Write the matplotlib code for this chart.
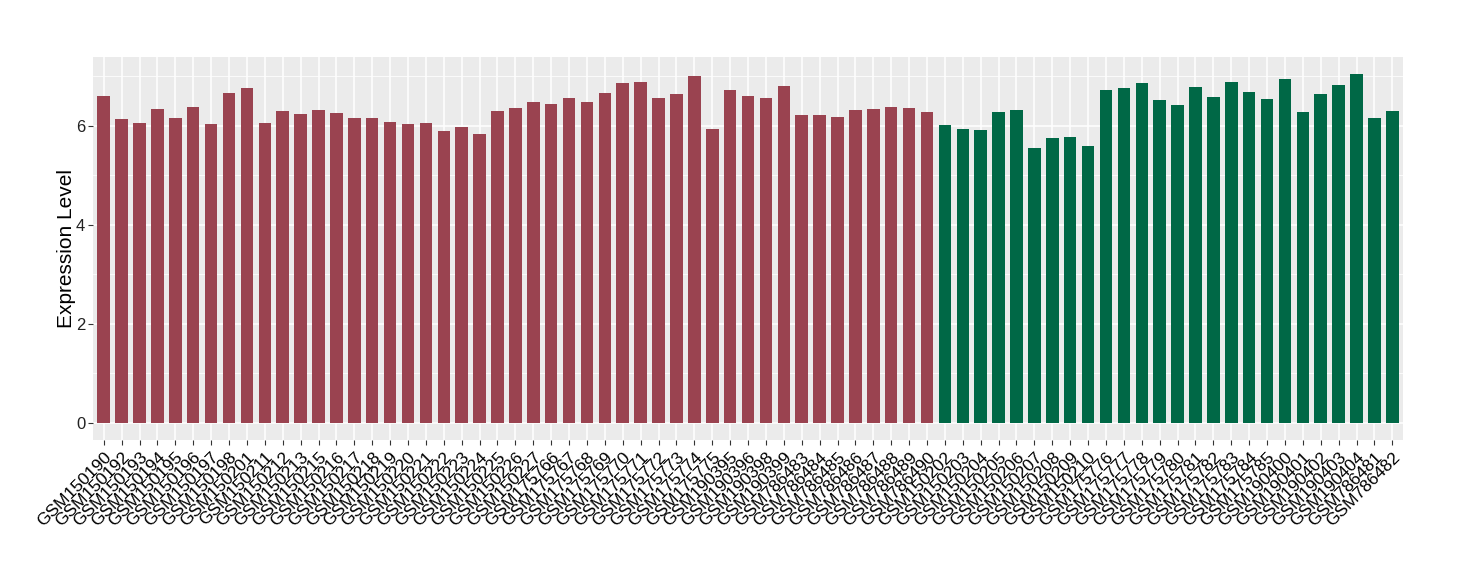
#!/usr/bin/env python3
"""Expression level per sample, two groups of bars in ggplot style."""

import numpy as np
import matplotlib
matplotlib.use("Agg")
import matplotlib.pyplot as plt
from matplotlib.ticker import MultipleLocator

# group 1 (red)
red_samples = [
    "GSM150190", "GSM150192", "GSM150193", "GSM150194", "GSM150195", "GSM150196",
    "GSM150197", "GSM150198", "GSM150201", "GSM150211", "GSM150212", "GSM150213",
    "GSM150215", "GSM150216", "GSM150217", "GSM150218", "GSM150219", "GSM150220",
    "GSM150221", "GSM150222", "GSM150223", "GSM150224", "GSM150225", "GSM150226",
    "GSM150227", "GSM175766", "GSM175767", "GSM175768", "GSM175769", "GSM175770",
    "GSM175771", "GSM175772", "GSM175773", "GSM175774", "GSM175775", "GSM190395",
    "GSM190396", "GSM190398", "GSM190399", "GSM786483", "GSM786484", "GSM786485",
    "GSM786486", "GSM786487", "GSM786488", "GSM786489", "GSM786490",
]
red_values = [
    6.61, 6.14, 6.06, 6.35, 6.16, 6.39, 6.04, 6.67, 6.77, 6.06, 6.30, 6.24,
    6.33, 6.26, 6.16, 6.16, 6.08, 6.04, 6.06, 5.90, 5.98, 5.84, 6.30, 6.37,
    6.48, 6.44, 6.56, 6.48, 6.66, 6.86, 6.88, 6.56, 6.64, 7.00, 5.94, 6.72,
    6.60, 6.56, 6.80, 6.22, 6.22, 6.18, 6.32, 6.34, 6.38, 6.36, 6.28,
]

# group 2 (green)
green_samples = [
    "GSM150202", "GSM150203", "GSM150204", "GSM150205", "GSM150206", "GSM150207",
    "GSM150208", "GSM150209", "GSM150210", "GSM175776", "GSM175777", "GSM175778",
    "GSM175779", "GSM175780", "GSM175781", "GSM175782", "GSM175783", "GSM175784",
    "GSM175785", "GSM190400", "GSM190401", "GSM190402", "GSM190403", "GSM190404",
    "GSM786481", "GSM786482",
]
green_values = [
    6.02, 5.94, 5.92, 6.28, 6.32, 5.56, 5.76, 5.78, 5.60, 6.72, 6.76, 6.86,
    6.52, 6.42, 6.78, 6.58, 6.88, 6.68, 6.54, 6.94, 6.28, 6.64, 6.82, 7.04,
    6.16, 6.30,
]

RED = "#9A4350"
GREEN = "#006846"

plt.rcParams["font.family"] = ["Liberation Sans", "DejaVu Sans"]

labels = red_samples + green_samples
values = np.array(red_values + green_values)
colors = [RED] * len(red_values) + [GREEN] * len(green_values)
x = np.arange(len(labels))

fig = plt.figure(figsize=(14.6, 5.8), dpi=100)
ax = fig.add_axes([0.0637, 0.2414, 0.8973, 0.6603])
ax.set_facecolor("#EBEBEB")

ax.bar(x, values, width=0.7, color=colors, zorder=3)

# ggplot-style expansion
vmax = values.max()
ax.set_ylim(-0.05 * vmax, vmax * 1.05)
ax.set_xlim(-0.6, len(labels) - 0.4)

ax.yaxis.set_major_locator(MultipleLocator(2))
ax.yaxis.set_minor_locator(MultipleLocator(1))
ax.grid(which="major", color="white", linewidth=1.1, zorder=0)
ax.grid(which="minor", axis="y", color="white", linewidth=0.55, zorder=0)
ax.set_axisbelow(True)

ax.set_xticks(x)
ax.set_xticklabels(labels, rotation=45, ha="right", va="top",
                   rotation_mode="anchor", fontsize=12.5, color="black")
ax.tick_params(axis="y", labelsize=12, labelcolor="#222222", pad=2)
ax.tick_params(which="major", length=3.5, width=0.8, color="#333333")
ax.tick_params(which="minor", length=0)

for spine in ax.spines.values():
    spine.set_visible(False)

ax.set_ylabel("Expression Level", fontsize=15, labelpad=0)

fig.savefig("out.png", dpi=100)
